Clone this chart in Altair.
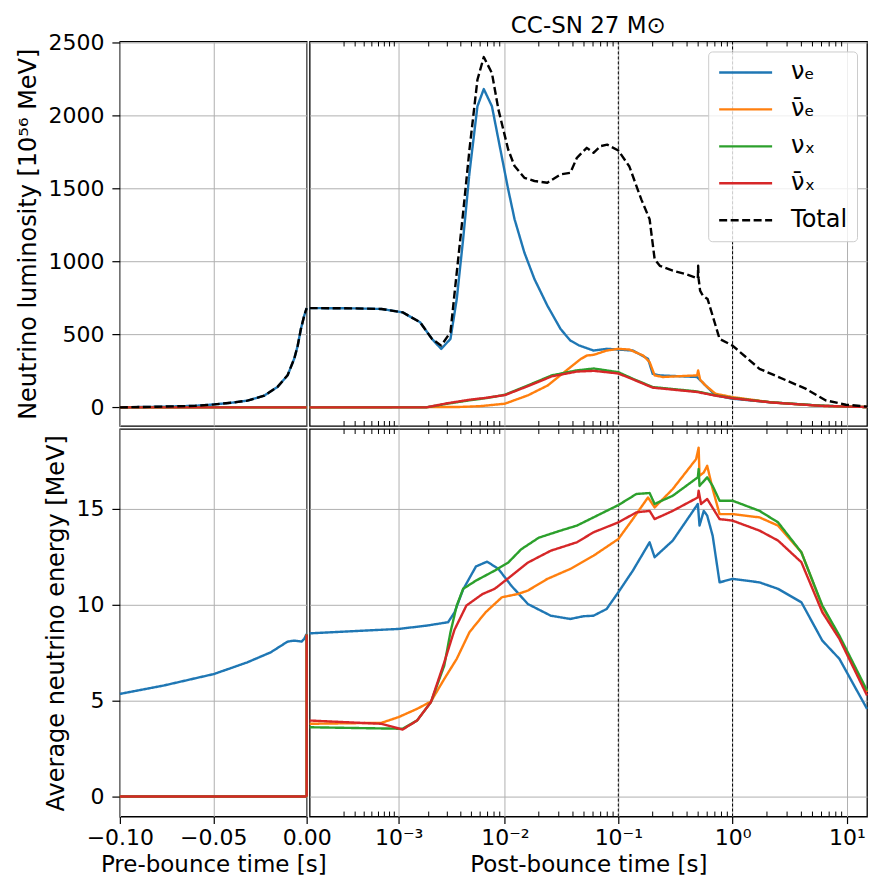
import altair as alt
import pandas as pd

FONT = "DejaVu Sans"
FLAVOURS = ["νₑ", "ν̄ₑ", "νₓ", "ν̄ₓ", "Total"]
COLORS = ["#1f77b4", "#ff7f0e", "#2ca02c", "#d62728", "#000000"]
DASHES = [[1, 0], [1, 0], [1, 0], [1, 0], [8, 3.5]]

# ---------------- pre-bounce luminosity ----------------
pre_lum_t = [-0.1, -0.08, -0.06, -0.0495, -0.04, -0.0317, -0.0227, -0.0156,
             -0.0102, -0.0066, -0.0048, -0.0031, -0.0013, 0.0]
pre_lum_nue = [0, 4, 10, 20, 32, 46, 80, 140, 220, 335, 422, 536, 628, 680]
pre_lum_total = [0, 4, 10, 20, 32, 46, 80, 140, 220, 335, 422, 536, 628, 680]
pre_flat_t = [-0.1, 0.0]
pre_flat_lum = [0, 0]

# ---------------- pre-bounce mean energy ----------------
pre_en_t = [-0.1, -0.0764, -0.0495, -0.0317, -0.0192, -0.0102, -0.0066, -0.0027, -0.0013, 0.0]
pre_en_nue = [5.35, 5.79, 6.39, 7.0, 7.52, 8.08, 8.13, 8.08, 8.22, 8.48]
pre_en_other_t = [-0.1, 0.0, 0.0]
pre_en_other = [0, 0, 8.45]

# ---------------- post-bounce luminosity ----------------
post_lum_nue_t = [0, 3e-4, 6.5e-4, 1.1e-3, 1.65e-3, 2.15e-3, 2.63e-3, 3.21e-3, 3.67e-3,
                  4.2e-3, 4.8e-3, 5.67e-3, 6.47e-3, 7.66e-3, 8.76e-3, 1.07e-2, 1.22e-2,
                  1.49e-2, 1.83e-2, 2.38e-2, 3.11e-2, 3.79e-2, 4.5e-2, 6.06e-2, 7.9e-2,
                  0.1, 0.134, 0.182, 0.2, 0.23, 0.49, 0.5, 0.58, 0.71, 1.0, 2.2, 6.0, 15.0]
post_lum_nue = [680, 678, 674, 651, 583, 469, 400, 469, 742, 1152, 1607, 2063, 2181,
                2063, 1835, 1494, 1289, 1061, 879, 697, 537, 458, 425, 389, 401, 396,
                389, 333, 230, 219, 208, 200, 150, 82, 59, 34, 11, 2]

post_lum_anue_t = [0, 3.7e-3, 6e-3, 1e-2, 1.6e-2, 2.4e-2, 3.8e-2, 4.7e-2, 5.3e-2, 6.1e-2,
                   7.9e-2, 0.1, 0.125, 0.165, 0.188, 0.208, 0.245, 0.49, 0.5, 0.52, 0.58,
                   0.71, 1.0, 2.2, 6.0, 15.0]
post_lum_anue = [0, 2, 8, 25, 82, 150, 275, 332, 355, 360, 389, 401, 396, 355, 310, 219,
                 208, 219, 253, 190, 150, 93, 70, 34, 10, 2]

post_lum_x_t = [0, 1.9e-3, 3e-3, 4.8e-3, 6.9e-3, 1e-2, 1.6e-2, 2.6e-2, 4.3e-2, 6.1e-2,
                0.1, 0.134, 0.2, 0.49, 0.71, 1.0, 2.2, 6.0, 15.0]
post_lum_nux = [0, 0, 25, 48, 64, 86, 150, 219, 253, 266, 241, 196, 139, 109, 82, 64, 34, 11, 2]
post_lum_anux = [0, 0, 28, 52, 66, 84, 145, 212, 245, 250, 232, 192, 135, 105, 80, 62, 33, 10, 2]

post_lum_tot_t = [0, 3e-4, 6.5e-4, 1.1e-3, 1.65e-3, 2.15e-3, 2.63e-3, 3.21e-3, 3.67e-3,
                  4.2e-3, 4.8e-3, 5.67e-3, 6.47e-3, 7.66e-3, 8.76e-3, 1.07e-2, 1.22e-2,
                  1.49e-2, 1.83e-2, 2.38e-2, 3.11e-2, 3.79e-2, 4.33e-2, 5.29e-2, 6.06e-2,
                  7.0e-2, 8.0e-2, 0.1, 0.125, 0.159, 0.188, 0.208, 0.231, 0.30, 0.39,
                  0.497, 0.50, 0.505, 0.52, 0.55, 0.605, 0.77, 1.0, 1.72, 4.35, 6.5, 9.8, 15.0]
post_lum_tot = [680, 678, 674, 651, 583, 469, 423, 515, 924, 1334, 1767, 2245, 2400,
                2290, 2040, 1767, 1653, 1573, 1551, 1539, 1596, 1607, 1710, 1778, 1744,
                1790, 1800, 1760, 1650, 1425, 1289, 1016, 970, 936, 913, 884, 970, 880,
                800, 765, 742, 469, 423, 264, 128, 48, 18, 5]

# ---------------- post-bounce mean energy ----------------
post_en_nue_t = [0, 1e-3, 1.9e-3, 3.05e-3, 3.5e-3, 4.2e-3, 5.5e-3, 6.93e-3, 8.76e-3,
                 1.14e-2, 1.6e-2, 2.55e-2, 3.79e-2, 4.94e-2, 6.06e-2, 0.079, 0.1, 0.134,
                 0.188, 0.208, 0.3, 0.497, 0.514, 0.56, 0.6, 0.67, 0.77, 1.0, 1.72, 2.5,
                 4.0, 6.1, 8.6, 15.0]
post_en_nue = [8.51, 8.74, 8.91, 9.09, 9.6, 10.8, 12.0, 12.25, 11.87, 11.0, 10.04, 9.43,
               9.26, 9.4, 9.43, 9.78, 10.65, 11.78, 13.26, 12.48, 13.35, 15.26, 14.13,
               14.9, 14.65, 13.6, 11.17, 11.35, 11.17, 10.83, 10.13, 8.13, 7.18, 4.57]

post_en_anue_t = [0, 6.5e-4, 1e-3, 1.54e-3, 2.1e-3, 2.81e-3, 3.67e-3, 4.8e-3, 6.7e-3,
                  9.4e-3, 1.3e-2, 1.6e-2, 2.38e-2, 3.79e-2, 6.06e-2, 0.1, 0.134, 0.182,
                  0.208, 0.3, 0.48, 0.505, 0.514, 0.56, 0.6, 0.67, 0.77, 1.0, 1.72, 2.5,
                  4.0, 6.1, 8.6, 15.0]
post_en_anue = [3.79, 3.84, 4.14, 4.57, 4.95, 6.13, 7.18, 8.57, 9.6, 10.39, 10.56, 10.74,
                11.35, 11.87, 12.56, 13.43, 14.47, 15.6, 15.08, 16.04, 17.6, 18.2, 16.73,
                16.9, 17.25, 16.04, 14.73, 14.73, 14.56, 14.13, 12.74, 9.9, 8.3, 5.45]

post_en_nux_t = [0, 1.1e-3, 1.54e-3, 2.1e-3, 2.81e-3, 3.21e-3, 3.67e-3, 4.2e-3, 5.5e-3,
                 8.1e-3, 1.07e-2, 1.4e-2, 2.0e-2, 3.11e-2, 4.33e-2, 6.06e-2, 0.1, 0.144,
                 0.188, 0.208, 0.3, 0.497, 0.505, 0.514, 0.6, 0.67, 0.77, 1.0, 1.72, 2.5,
                 4.0, 6.1, 8.6, 15.0]
post_en_nux = [3.61, 3.53, 3.96, 4.92, 6.83, 8.57, 9.96, 10.83, 11.26, 11.78, 12.2, 12.9,
               13.5, 13.87, 14.13, 14.56, 15.2, 15.78, 15.83, 15.26, 15.69, 16.65, 17.08,
               16.2, 16.65, 16.2, 15.43, 15.43, 14.9, 14.3, 12.74, 9.96, 8.39, 5.53]

post_en_anux_t = [0, 6.5e-4, 1.1e-3, 1.54e-3, 2.1e-3, 2.81e-3, 3.5e-3, 4.5e-3, 6.3e-3,
                  8.1e-3, 1.07e-2, 1.6e-2, 2.55e-2, 4.33e-2, 6.06e-2, 0.1, 0.144, 0.188,
                  0.208, 0.3, 0.497, 0.505, 0.53, 0.6, 0.77, 1.0, 1.72, 2.5, 4.0, 6.1,
                  8.6, 15.0]
post_en_anux = [3.96, 3.79, 3.49, 3.96, 4.92, 7.0, 8.7, 9.96, 10.56, 10.83, 11.38, 12.2,
                12.82, 13.26, 13.78, 14.3, 14.82, 14.9, 14.47, 14.9, 15.6, 15.95, 15.26,
                15.52, 14.47, 14.39, 13.87, 13.35, 12.22, 9.61, 8.22, 5.27]

# ---------------- axis ticks & guide positions ----------------
PRE_TICKS = [-0.1, -0.05, 0.0]
POST_TICKS = [0.001, 0.01, 0.1, 1, 10]
LUM_TICKS = [0, 500, 1000, 1500, 2000, 2500]
EN_TICKS = [0, 5, 10, 15]
VLINES = [0.1, 1.0]
MINOR = [k * 10.0 ** n for n in range(-4, 1) for k in range(2, 10)]

W_L, W_R, H_T, H_B = 187, 558, 385, 388


def frame(series):
    rows = []
    for name, ts, vs in series:
        for i, (t, v) in enumerate(zip(ts, vs)):
            rows.append({"s": name, "t": t, "v": v, "i": i})
    return pd.DataFrame(rows)


df_tl = frame([
    (FLAVOURS[0], pre_lum_t, pre_lum_nue),
    (FLAVOURS[1], pre_flat_t, pre_flat_lum),
    (FLAVOURS[2], pre_flat_t, pre_flat_lum),
    (FLAVOURS[3], pre_flat_t, pre_flat_lum),
    (FLAVOURS[4], pre_lum_t, pre_lum_total),
])
df_bl = frame([
    (FLAVOURS[0], pre_en_t, pre_en_nue),
    (FLAVOURS[1], pre_en_other_t, pre_en_other),
    (FLAVOURS[2], pre_en_other_t, pre_en_other),
    (FLAVOURS[3], pre_en_other_t, pre_en_other),
])
df_tr = frame([
    (FLAVOURS[0], post_lum_nue_t, post_lum_nue),
    (FLAVOURS[1], post_lum_anue_t, post_lum_anue),
    (FLAVOURS[2], post_lum_x_t, post_lum_nux),
    (FLAVOURS[3], post_lum_x_t, post_lum_anux),
    (FLAVOURS[4], post_lum_tot_t, post_lum_tot),
])
df_br = frame([
    (FLAVOURS[0], post_en_nue_t, post_en_nue),
    (FLAVOURS[1], post_en_anue_t, post_en_anue),
    (FLAVOURS[2], post_en_nux_t, post_en_nux),
    (FLAVOURS[3], post_en_anux_t, post_en_anux),
])

x_pre_scale = alt.Scale(domain=[-0.1, 0.0], nice=False, zero=False)
x_post_scale = alt.Scale(type="symlog", constant=2.0e-4, domain=[0, 15], nice=False, zero=False)
y_lum_scale = alt.Scale(domain=[-128, 2507], nice=False, zero=False)
y_en_scale = alt.Scale(domain=[-1.05, 19.17], nice=False, zero=False)

POST_LABELS = ("datum.value < 0.005 ? '10⁻³' : datum.value < 0.05 ? '10⁻²' : "
               "datum.value < 0.5 ? '10⁻¹' : datum.value < 5 ? '10⁰' : '10¹'")


def grid_axis(vals):
    return alt.Axis(values=vals, labels=False, ticks=False, domain=False, title=None, grid=True)


X_pre_top = alt.X("t:Q", scale=x_pre_scale, axis=grid_axis(PRE_TICKS))
X_pre_bot = alt.X("t:Q", scale=x_pre_scale,
                  axis=alt.Axis(values=PRE_TICKS, format=".2f", title="Pre-bounce time [s]",
                                grid=True, labelFlush=False, labelOverlap=False))
X_post_top = alt.X("t:Q", scale=x_post_scale, axis=grid_axis(POST_TICKS))
X_post_bot = alt.X("t:Q", scale=x_post_scale,
                   axis=alt.Axis(values=POST_TICKS, labelExpr=POST_LABELS,
                                 title="Post-bounce time [s]", grid=True,
                                 labelFlush=False, labelOverlap=False))
Y_lum_left = alt.Y("v:Q", scale=y_lum_scale,
                   axis=alt.Axis(values=LUM_TICKS, format="d", grid=True,
                                 title="Neutrino luminosity [10⁵⁶ MeV]", labelOverlap=False))
Y_lum_right = alt.Y("v:Q", scale=y_lum_scale, axis=grid_axis(LUM_TICKS))
Y_en_left = alt.Y("v:Q", scale=y_en_scale,
                  axis=alt.Axis(values=EN_TICKS, format="d", grid=True,
                                title="Average neutrino energy [MeV]", labelOverlap=False))
Y_en_right = alt.Y("v:Q", scale=y_en_scale, axis=grid_axis(EN_TICKS))

LEGEND = alt.Legend(
    title=None, orient="top-right", offset=10, padding=9,
    symbolType="M-1,0H4.3", symbolSize=400, symbolStrokeWidth=2.4,
    labelFontSize=24, labelFont=FONT, labelColor="black", labelOffset=50,
    rowPadding=13, fillColor="rgba(255,255,255,0.8)", strokeColor="#cccccc",
    cornerRadius=4,
)


def lines(df, X, Y, legend=None):
    return alt.Chart(df).mark_line(strokeWidth=2.4, strokeJoin="round").encode(
        x=X, y=Y,
        color=alt.Color("s:N", scale=alt.Scale(domain=FLAVOURS, range=COLORS), legend=legend),
        strokeDash=alt.StrokeDash("s:N", scale=alt.Scale(domain=FLAVOURS, range=DASHES),
                                  legend=legend),
        order=alt.Order("i:Q"),
    )


def guides(X, h):
    vl = alt.Chart(pd.DataFrame({"t": VLINES})).mark_rule(
        color="black", strokeWidth=1, strokeDash=[3, 2]).encode(x=X)
    mdf = pd.DataFrame({"t": MINOR})
    mt = alt.Chart(mdf).mark_rule(color="black", strokeWidth=1).encode(
        x=X, y=alt.value(0), y2=alt.value(5))
    mb = alt.Chart(mdf).mark_rule(color="black", strokeWidth=1).encode(
        x=X, y=alt.value(h), y2=alt.value(h - 5))
    return [vl, mt, mb]


tl = lines(df_tl, X_pre_top, Y_lum_left).properties(width=W_L, height=H_T)
bl = lines(df_bl, X_pre_bot, Y_en_left).properties(width=W_L, height=H_B)
tr = alt.layer(*guides(X_post_top, H_T), lines(df_tr, X_post_top, Y_lum_right, LEGEND)).properties(
    width=W_R, height=H_T,
    title=alt.TitleParams("CC-SN 27 M⊙", fontSize=23, font=FONT, fontWeight="normal",
                          color="black", offset=-15, baseline="alphabetic", anchor="middle"))
br = alt.layer(*guides(X_post_bot, H_B), lines(df_br, X_post_bot, Y_en_right)).properties(
    width=W_R, height=H_B)

chart = alt.concat(
    tl, tr, bl, br, columns=2, spacing=3, bounds="flush", align="each"
).resolve_scale(
    color="independent", strokeDash="independent"
).properties(
    padding={"left": 8, "top": 5, "right": 0, "bottom": 0}
).configure_view(
    stroke="black", strokeWidth=1.3
).configure_axis(
    labelFont=FONT, titleFont=FONT, labelColor="black", titleColor="black",
    tickColor="black", tickWidth=1.2, tickSize=8, labelPadding=8,
    gridColor="#b0b0b0", gridWidth=1, domain=False, titleFontWeight="normal",
    labelFontSize=22, titleFontSize=24,
).configure_axisX(
    tickSize=7, labelPadding=4, titlePadding=5, labelFontSize=22, titleFontSize=23,
).configure_axisY(
    titlePadding=7,
)

chart.save("out.html", embed_options={"renderer": "svg", "actions": False})
